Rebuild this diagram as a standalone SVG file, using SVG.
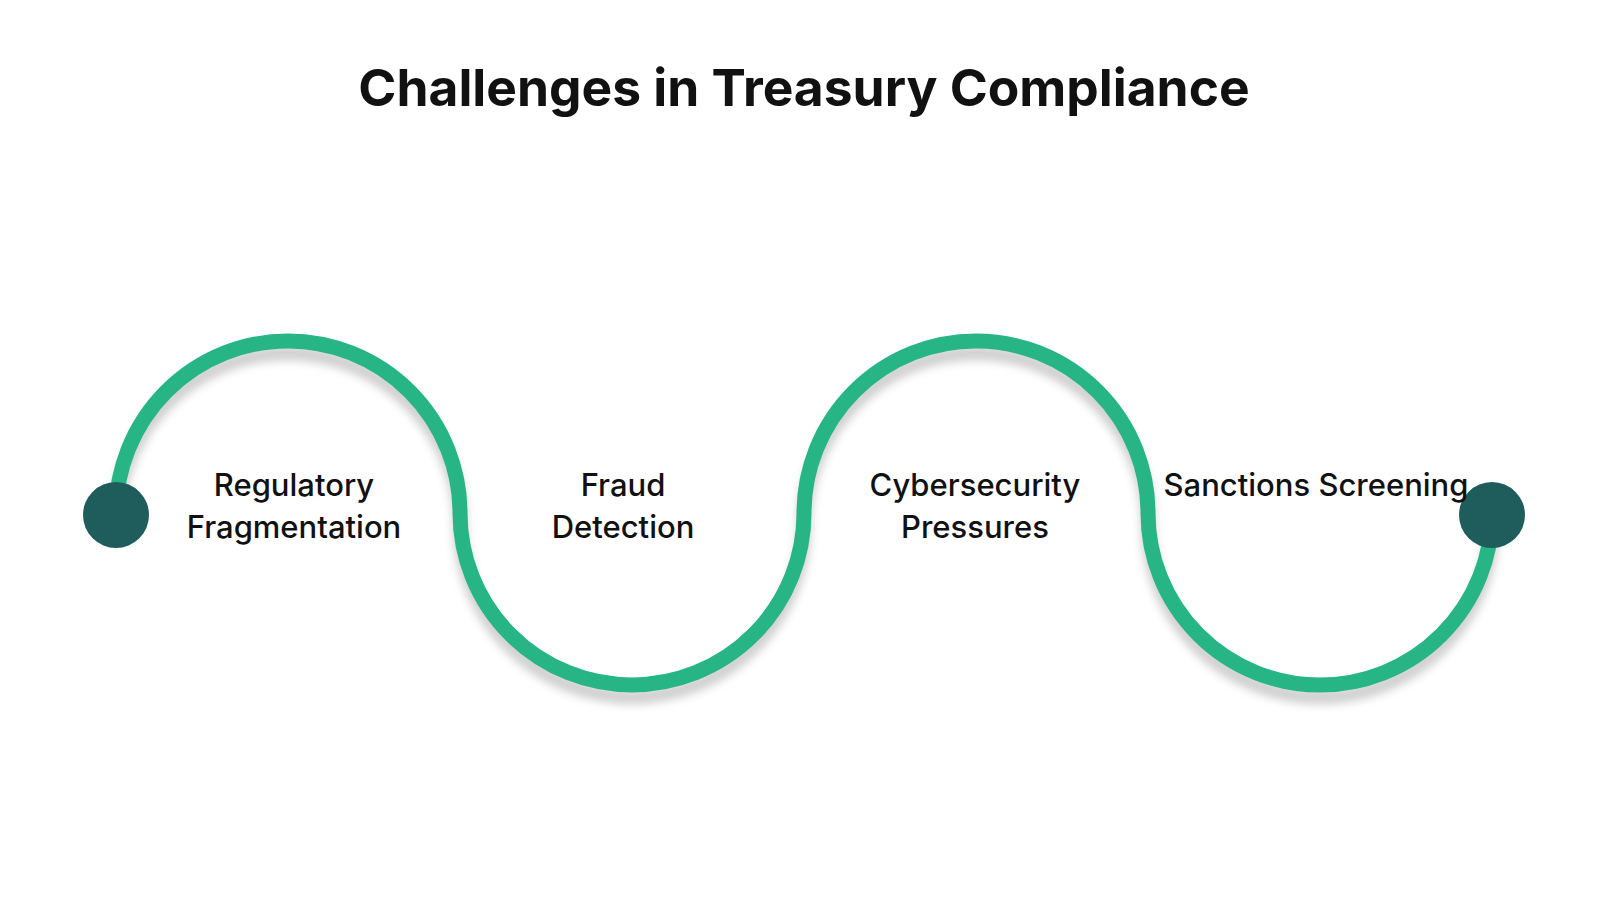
<svg xmlns="http://www.w3.org/2000/svg" width="1600" height="900" viewBox="0 0 1600 900">
<style>
.lbl{font-family:Inter,"Liberation Sans",sans-serif;font-size:31px;fill:#111;text-anchor:middle;font-weight:500}
</style>
<defs><filter id="sh" x="-10%" y="-10%" width="120%" height="130%"><feGaussianBlur stdDeviation="4"/></filter></defs>
<rect width="1600" height="900" fill="#fff"/>
<text x="804" y="106" text-anchor="middle" font-family="Inter,'Liberation Sans',sans-serif" font-weight="700" font-size="51.5" fill="#111">Challenges in Treasury Compliance</text>
<g id="connectors">
<path d="M116,525 A172,172 0 0 1 460,525 A172,172 0 0 0 804,525 A172,172 0 0 1 1148,525 A172,172 0 0 0 1492,525" fill="none" stroke="#000" stroke-opacity="0.18" stroke-width="15" filter="url(#sh)"/>
<path d="M116,513 A172,172 0 0 1 460,513 A172,172 0 0 0 804,513 A172,172 0 0 1 1148,513 A172,172 0 0 0 1492,513" fill="none" stroke="#27b585" stroke-width="15"/>
</g>
<g id="start"><circle cx="116" cy="515" r="33" fill="#1f5c5c"/></g>
<g id="end"><circle cx="1492" cy="515" r="33" fill="#1f5c5c"/></g>
<g id="n1"><text class="lbl" x="294" y="496">Regulatory</text><text class="lbl" x="294" y="538">Fragmentation</text></g>
<g id="n2"><text class="lbl" x="623" y="496">Fraud</text><text class="lbl" x="623" y="538">Detection</text></g>
<g id="n3"><text class="lbl" x="975" y="496">Cybersecurity</text><text class="lbl" x="975" y="538">Pressures</text></g>
<g id="n4"><text class="lbl" x="1316" y="496">Sanctions Screening</text></g>
</svg>
